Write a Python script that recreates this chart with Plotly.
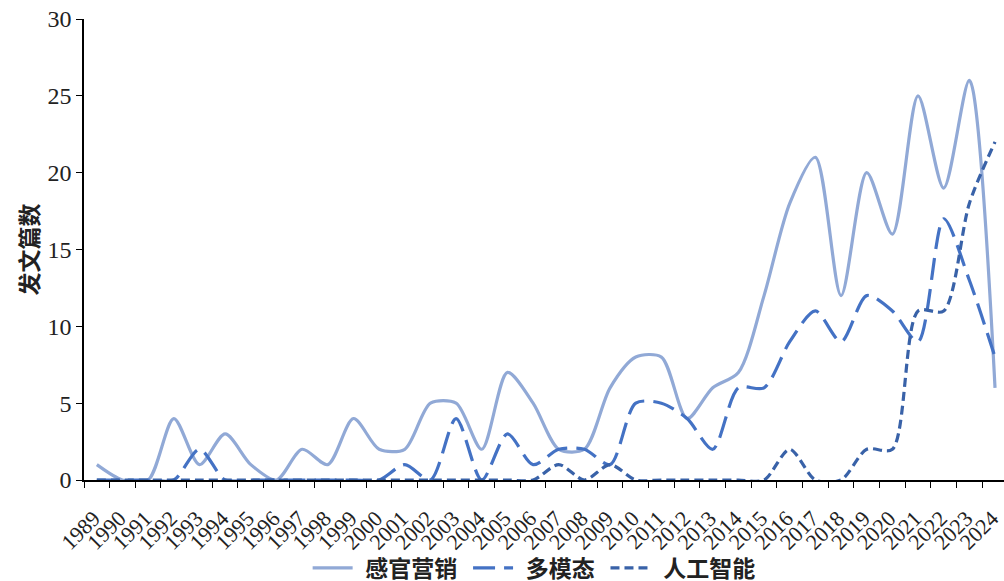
import plotly.graph_objects as go

years = [str(y) for y in range(1989, 2025)]
sensory_marketing = [1, 0, 0, 4, 1, 3, 1, 0, 2, 1, 4, 2, 2, 5, 5, 2, 7, 5, 2, 2,
                     6, 8, 8, 4, 6, 7, 12, 18, 21, 12, 20, 16, 25, 19, 26, 6]
multimodal = [0, 0, 0, 0, 2, 0, 0, 0, 0, 0, 0, 0, 1, 0, 4, 0, 3, 1, 2, 2,
              1, 5, 5, 4, 2, 6, 6, 9, 11, 9, 12, 11, 9, 17, 13, 8]
ai = [0, 0, 0, 0, 0, 0, 0, 0, 0, 0, 0, 0, 0, 0, 0, 0, 0, 0, 1, 0,
      1, 0, 0, 0, 0, 0, 0, 2, 0, 0, 2, 2, 11, 11, 18, 22]

series_names = ["感官营销", "多模态", "人工智能"]
y_ticks = [0, 5, 10, 15, 20, 25, 30]
y_title = "发文篇数"

CJK = "Noto Sans CJK SC"
SERIF = "Liberation Serif, Times New Roman, serif"

def legend_label(s):
    return "\u2004" + s + "\u2005"

fig = go.Figure()
fig.add_trace(go.Scatter(
    x=years, y=sensory_marketing, name=legend_label(series_names[0]), mode="lines", cliponaxis=False,
    line=dict(color="#91A9D6", width=3.2, shape="spline", smoothing=0.8),
))
fig.add_trace(go.Scatter(
    x=years, y=multimodal, name=legend_label(series_names[1]), mode="lines", cliponaxis=False,
    line=dict(color="#4472C4", width=3.2, shape="spline", smoothing=0.8, dash="22px,9px"),
))
fig.add_trace(go.Scatter(
    x=years, y=ai, name=legend_label(series_names[2]), mode="lines", cliponaxis=False,
    line=dict(color="#3962A8", width=3.2, shape="spline", smoothing=0.8, dash="9px,5px"),
))

fig.update_layout(
    width=1004, height=581, autosize=False,
    margin=dict(l=84, r=0, t=19, b=101),
    paper_bgcolor="white", plot_bgcolor="white",
    showlegend=True,
    legend=dict(
        orientation="h", xref="container", yref="container",
        x=0.535, xanchor="center", y=0.0224, yanchor="middle",
        bgcolor="rgba(0,0,0,0)",
        font=dict(family=CJK, size=23, color="#222222", weight="bold"),
        itemwidth=40, tracegroupgap=0,
    ),
    xaxis=dict(
        type="category", range=[-0.5, 35.35], automargin=False,
        tickmode="linear", dtick=1,
        showline=True, linecolor="black", linewidth=1.5,
        ticks="outside", tickson="boundaries", ticklen=6, tickcolor="black",
        tickangle=-45, showgrid=False, zeroline=False,
        ticklabelstandoff=15, ticklabelshift=-3,
        tickfont=dict(family=SERIF, size=22, color="#222222"),
    ),
    yaxis=dict(
        range=[0, 30], tickvals=y_ticks, automargin=False,
        showline=True, linecolor="black", linewidth=1.5,
        ticks="outside", ticklen=6, tickcolor="black",
        showgrid=False, zeroline=False,
        tickfont=dict(family=SERIF, size=24, color="#222222"),
    ),
    annotations=[dict(
        text=y_title, textangle=-90, x=-0.061, y=0.5, xref="paper", yref="paper",
        xanchor="center", yanchor="middle", showarrow=False,
        font=dict(family=CJK, size=23, color="#222222", weight="bold"),
    )],
)

fig.write_html(
    "out.html",
    config={"responsive": False, "displayModeBar": False},
    post_script="document.body.style.margin='0';document.body.style.padding='0';",
)
